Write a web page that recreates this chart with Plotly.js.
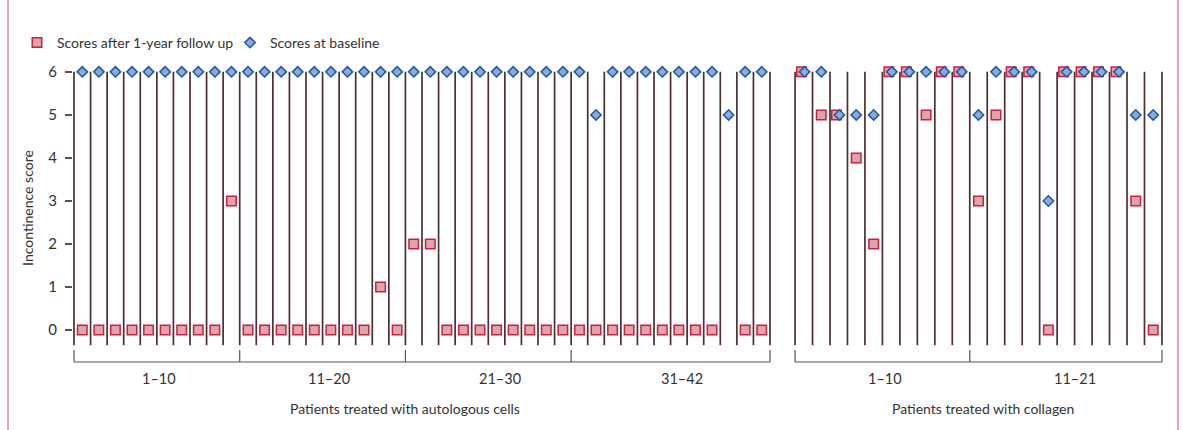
<!DOCTYPE html>
<html>
<head>
<meta charset="utf-8">
<script src="https://cdn.plot.ly/plotly-3.0.1.min.js"></script>
<style>html,body{margin:0;padding:0;background:#fff;}</style>
</head>
<body>
<div id="chart" style="width:1183px;height:430px;"></div>
<script>
// ---------------- data ----------------
const patientsAutologous = Array.from({length: 42}, (_, i) => i + 1);
const patientsCollagen = Array.from({length: 21}, (_, i) => i + 1);

const baselineAutologous = [6,6,6,6,6,6,6,6,6,6, 6,6,6,6,6,6,6,6,6,6, 6,6,6,6,6,6,6,6,6,6, 6,5,6,6,6,6,6,6,6,5, 6,6];
const followupAutologous = [0,0,0,0,0,0,0,0,0,3, 0,0,0,0,0,0,0,0,1,0, 2,2,0,0,0,0,0,0,0,0, 0,0,0,0,0,0,0,0,0,null, 0,0];

const baselineCollagen = [6,6,5,5,5,6,6,6,6,6, 5,6,6,6,3,6,6,6,6,5, 5];
const followupCollagen = [6,5,5,4,2,6,6,5,6,6, 3,5,6,6,0,6,6,6,6,3, 0];

const groupLabelsAutologous = ['1–10', '11–20', '21–30', '31–42'];
const groupSizesAutologous = [10, 10, 10, 12];
const groupLabelsCollagen = ['1–10', '11–21'];
const groupSizesCollagen = [10, 11];

const yTickValues = [0, 1, 2, 3, 4, 5, 6];

const seriesNames = ['Scores after 1-year follow up', 'Scores at baseline'];
const axisTitles = ['Patients treated with autologous cells', 'Patients treated with collagen'];
const yTitle = 'Incontinence score';

// ---------------- styling ----------------
const FONT = 'Lato, "Open Sans", sans-serif';
const TEXT = '#333333';
const DIVIDER = '#4e3030';
const BRACKET = '#555555';
const SQ_FILL = '#e3a3a5', SQ_LINE = '#c42049';
const DI_FILL = '#8eaadb', DI_LINE = '#1d5ba6';
const LINE_BOTTOM = -0.35;

function dividerTrace(n, xa) {
  const xs = [], ys = [];
  for (let k = 0; k <= n; k++) { xs.push(k, k, null); ys.push(6, LINE_BOTTOM, null); }
  return {x: xs, y: ys, xaxis: xa, yaxis: 'y', mode: 'lines', type: 'scatter',
          line: {color: DIVIDER, width: 1.7}, hoverinfo: 'skip', showlegend: false};
}

function positions(patients, follow, base, isFollow) {
  return patients.map((p, i) => {
    const same = follow[i] !== null && follow[i] === base[i];
    return p - 0.5 + (same ? (isFollow ? -0.13 : 0.04) : 0);
  });
}

function followTrace(patients, follow, base, xa, show) {
  return {x: positions(patients, follow, base, true), y: follow, xaxis: xa, yaxis: 'y',
          type: 'scatter', mode: 'markers', name: seriesNames[0], legendgroup: 'f', showlegend: show,
          cliponaxis: false,
          marker: {symbol: 'square', size: 9.5, color: SQ_FILL, line: {color: SQ_LINE, width: 1.5}}};
}
function baseTrace(patients, follow, base, xa, show) {
  return {x: positions(patients, follow, base, false), y: base, xaxis: xa, yaxis: 'y',
          type: 'scatter', mode: 'markers', name: seriesNames[1], legendgroup: 'b', showlegend: show,
          cliponaxis: false,
          marker: {symbol: 'diamond', size: 8, color: DI_FILL, line: {color: DI_LINE, width: 1.5}}};
}

const data = [
  dividerTrace(patientsAutologous.length, 'x'),
  dividerTrace(patientsCollagen.length, 'x2'),
  followTrace(patientsAutologous, followupAutologous, baselineAutologous, 'x', true),
  followTrace(patientsCollagen, followupCollagen, baselineCollagen, 'x2', false),
  baseTrace(patientsAutologous, followupAutologous, baselineAutologous, 'x', true),
  baseTrace(patientsCollagen, followupCollagen, baselineCollagen, 'x2', false)
];

// ---------------- brackets & labels ----------------
const Y_TICK_TOP = -0.0146, Y_BRACKET = -0.0582, Y_GROUP = -0.1164, Y_TITLE = -0.2255;
const shapes = [], annotations = [];

function bracket(sizes, labels, xref, labelX, titleX, title) {
  const total = sizes.reduce((a, b) => a + b, 0);
  shapes.push({type: 'line', xref: xref, yref: 'paper', x0: 0, x1: total, y0: Y_BRACKET, y1: Y_BRACKET,
               line: {color: BRACKET, width: 1.2}});
  let acc = 0;
  const bounds = [0];
  sizes.forEach(s => { acc += s; bounds.push(acc); });
  bounds.forEach(b => shapes.push({type: 'line', xref: xref, yref: 'paper', x0: b, x1: b,
               y0: Y_TICK_TOP, y1: Y_BRACKET, line: {color: BRACKET, width: 1.2}}));
  labels.forEach((lab, i) => annotations.push({text: lab, xref: xref, yref: 'paper', x: labelX[i], y: Y_GROUP,
               xanchor: 'center', yanchor: 'middle', showarrow: false, font: {family: FONT, size: 14.5, color: TEXT}}));
  annotations.push({text: title, xref: xref, yref: 'paper', x: titleX, y: Y_TITLE, xanchor: 'center',
               yanchor: 'middle', showarrow: false, font: {family: FONT, size: 14, color: TEXT}});
}
bracket(groupSizesAutologous, groupLabelsAutologous, 'x', [5.15, 15.4, 25.7, 36.7], 19.97, axisTitles[0]);
bracket(groupSizesCollagen, groupLabelsCollagen, 'x2', [5.15, 16.0], 10.76, axisTitles[1]);

annotations.push({text: yTitle, xref: 'paper', yref: 'paper', x: -0.0413, y: 0.502, textangle: -90,
                  xanchor: 'center', yanchor: 'middle', showarrow: false, font: {family: FONT, size: 14, color: TEXT}});

// pink frame lines of the figure panel
[-0.0596, 1.0138].forEach(px => shapes.push({type: 'line', xref: 'paper', yref: 'paper', x0: px, x1: px,
               y0: -0.31, y1: 1.26, line: {color: '#d98aa6', width: 1.5}}));

const hiddenX = {showgrid: false, zeroline: false, showline: false, showticklabels: false, ticks: '', fixedrange: true};

const layout = {
  width: 1183, height: 430,
  margin: {l: 73, r: 20, t: 71, b: 84},
  paper_bgcolor: '#ffffff', plot_bgcolor: '#ffffff',
  font: {family: FONT, color: TEXT},
  showlegend: true,
  legend: {orientation: 'h', x: -0.0514, xanchor: 'left', y: 1.1018, yanchor: 'middle',
           font: {family: FONT, size: 14, color: TEXT}, entrywidth: 168, bgcolor: 'rgba(0,0,0,0)'},
  xaxis: Object.assign({domain: [0, 0.64037], range: [-0.06, 42.06], anchor: 'y'}, hiddenX),
  xaxis2: Object.assign({domain: [0.66147, 1], range: [-0.06, 21.06], anchor: 'y'}, hiddenX),
  yaxis: {range: [-0.37, 6.02], tickvals: yTickValues, ticktext: yTickValues.map(String),
          ticks: 'outside', ticklen: 7, tickwidth: 1.5, tickcolor: '#555555',
          showgrid: false, zeroline: false, showline: false, ticklabelstandoff: 5,
          tickfont: {family: FONT, size: 15, color: TEXT}, fixedrange: true},
  shapes: shapes,
  annotations: annotations
};

Plotly.newPlot('chart', data, layout, {displayModeBar: false, staticPlot: true});
</script>
</body>
</html>
